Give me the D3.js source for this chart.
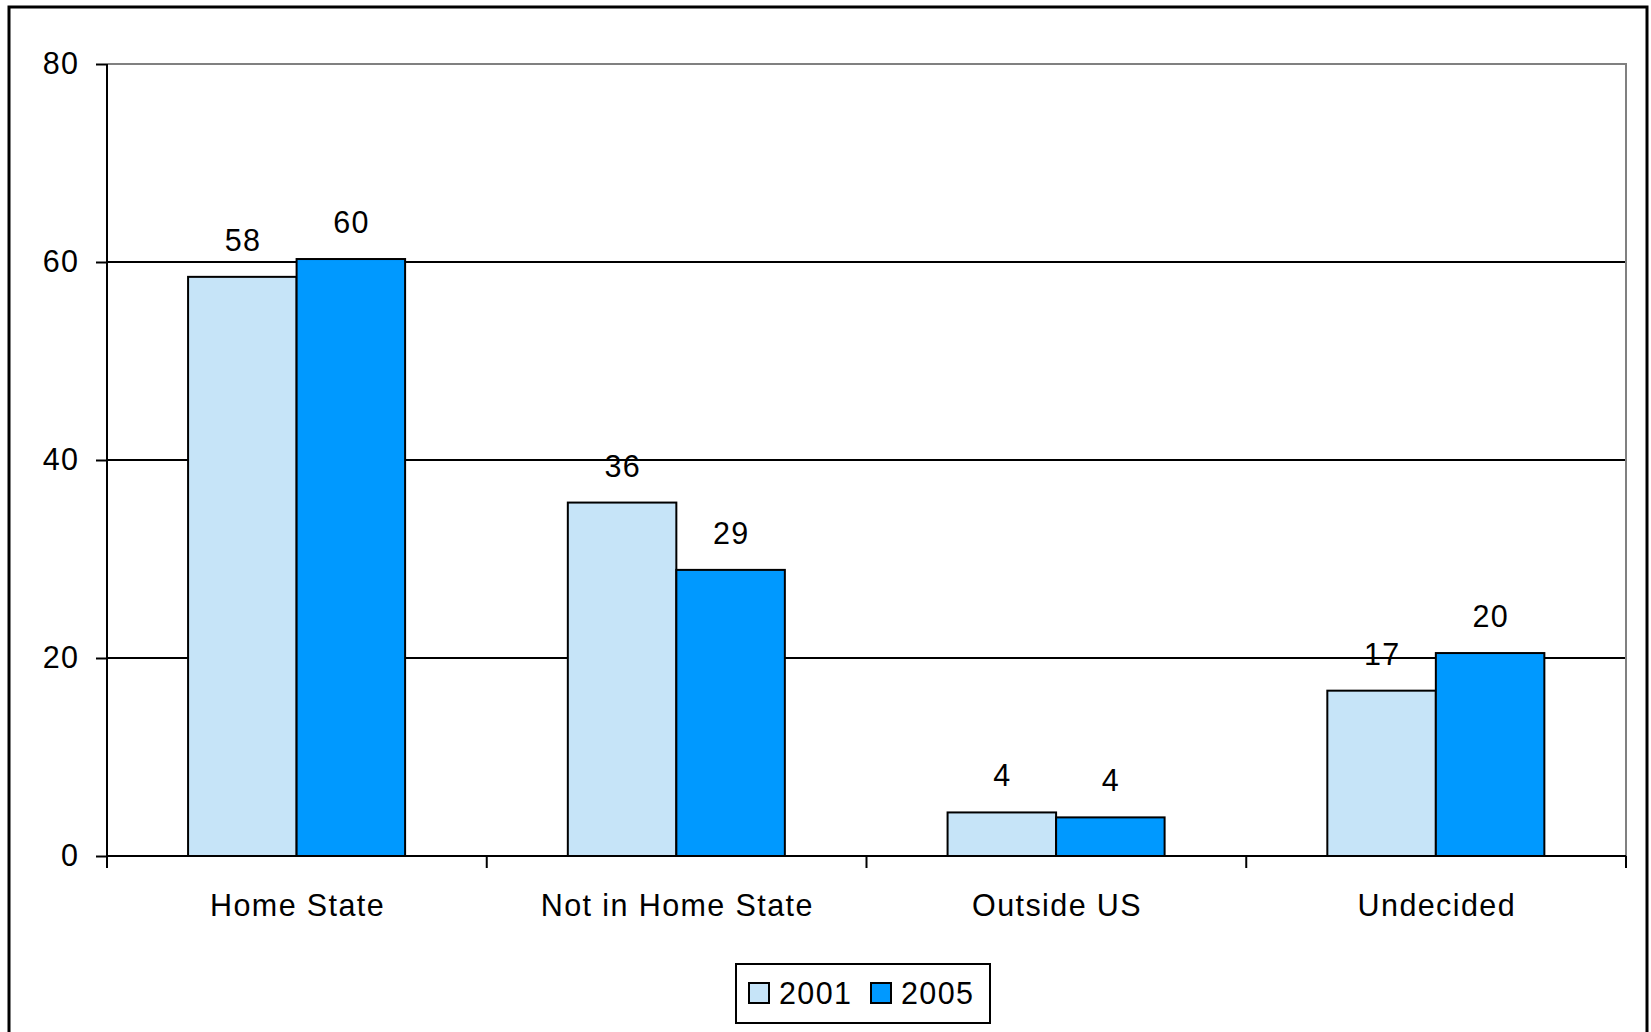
<!DOCTYPE html>
<html>
<head>
<meta charset="utf-8">
<script src="https://cdn.jsdelivr.net/npm/d3@7"></script>
<style>
html,body{margin:0;padding:0;background:#fff;}
svg{display:block;}
text{font-family:"Liberation Sans",Arial,sans-serif;fill:#000;letter-spacing:1.4px;}
</style>
</head>
<body>
<svg id="chart" width="1651" height="1032"></svg>
<script>
const categories = ["Home State", "Not in Home State", "Outside US", "Undecided"];
const seriesNames = ["2001", "2005"];
const values2001 = [58.5, 35.7, 4.4, 16.7];
const values2005 = [60.3, 28.9, 3.9, 20.5];
const labels2001 = ["58", "36", "4", "17"];
const labels2005 = ["60", "29", "4", "20"];
const yTicks = [0, 20, 40, 60, 80];
const colors = ["#C6E4F8", "#0099FF"];

const svg = d3.select("#chart");
const plot = {left: 107, right: 1626, top: 64, bottom: 856};
const FS = 30.5;

// outer frame
svg.append("rect").attr("x", 9).attr("y", 7).attr("width", 1638).attr("height", 1040)
  .attr("fill", "#fff").attr("stroke", "#000").attr("stroke-width", 3);

const x = d3.scaleBand().domain(categories).range([plot.left, plot.right]).padding(0);
const bw = x.bandwidth();
const xs = d3.scaleBand().domain(seriesNames).range([bw * 0.2135, bw * 0.785]).padding(0);
const y = d3.scaleLinear().domain([0, 80]).range([plot.bottom, plot.top]);

// gridlines
svg.append("g").selectAll("line").data(yTicks.filter(d => d > 0 && d < 80)).join("line")
  .attr("x1", plot.left).attr("x2", plot.right)
  .attr("y1", d => y(d)).attr("y2", d => y(d))
  .attr("stroke", "#000").attr("stroke-width", 2);

// top and right plot border (gray)
svg.append("path")
  .attr("d", `M${plot.left},${y(80)}H${plot.right}V${plot.bottom}`)
  .attr("fill", "none").attr("stroke", "#808080").attr("stroke-width", 2);

// bars
const data = categories.map((c, i) => ({c, vals: [values2001[i], values2005[i]], labs: [labels2001[i], labels2005[i]]}));
const groups = svg.append("g").selectAll("g").data(data).join("g")
  .attr("transform", d => `translate(${x(d.c)},0)`);
groups.selectAll("rect").data(d => d.vals.map((v, j) => ({v, s: seriesNames[j], j}))).join("rect")
  .attr("x", d => xs(d.s)).attr("width", xs.bandwidth())
  .attr("y", d => y(d.v)).attr("height", d => y(0) - y(d.v))
  .attr("fill", d => colors[d.j]).attr("stroke", "#000").attr("stroke-width", 2);
groups.selectAll("text").data(d => d.vals.map((v, j) => ({v, s: seriesNames[j], lab: d.labs[j]}))).join("text")
  .attr("x", d => xs(d.s) + xs.bandwidth() / 2 + 0.7)
  .attr("y", d => y(d.v) - 26)
  .attr("text-anchor", "middle").attr("font-size", FS)
  .text(d => d.lab);

// y axis
const yAxis = svg.append("g").attr("transform", `translate(${plot.left},0)`)
  .call(d3.axisLeft(y).tickValues(yTicks).tickSize(11).tickPadding(16.6).tickFormat(d3.format("d")));
yAxis.selectAll("path,line").attr("stroke", "#000").attr("stroke-width", 2);
yAxis.select(".domain").attr("d", `M0,${plot.top}V${plot.bottom}`);
yAxis.selectAll("text").attr("font-size", FS).attr("font-family", "Liberation Sans, Arial, sans-serif").attr("fill", "#000");

// x axis
const xg = svg.append("g");
xg.append("line").attr("x1", plot.left).attr("x2", plot.right)
  .attr("y1", y(0)).attr("y2", y(0)).attr("stroke", "#000").attr("stroke-width", 2);
const boundaries = categories.map(c => x(c)).concat([x(categories[categories.length - 1]) + bw]);
xg.selectAll("line.tick").data(boundaries).join("line").attr("class", "tick")
  .attr("x1", d => d).attr("x2", d => d)
  .attr("y1", y(0)).attr("y2", y(0) + 12).attr("stroke", "#000").attr("stroke-width", 2);
xg.selectAll("text").data(categories).join("text")
  .attr("x", d => x(d) + bw / 2 + 0.7).attr("y", 916)
  .attr("text-anchor", "middle").attr("font-size", FS)
  .text(d => d);

// legend
const lg = svg.append("g");
lg.append("rect").attr("x", 736).attr("y", 964).attr("width", 254).attr("height", 59)
  .attr("fill", "#fff").attr("stroke", "#000").attr("stroke-width", 2);
const legItems = [{s: seriesNames[0], c: colors[0], x: 749}, {s: seriesNames[1], c: colors[1], x: 871}];
const li = lg.selectAll("g").data(legItems).join("g");
li.append("rect").attr("x", d => d.x).attr("y", 983).attr("width", 20).attr("height", 20)
  .attr("fill", d => d.c).attr("stroke", "#000").attr("stroke-width", 2);
li.append("text").attr("x", d => d.x + 30).attr("y", 1004).attr("font-size", FS).text(d => d.s);
</script>
</body>
</html>
